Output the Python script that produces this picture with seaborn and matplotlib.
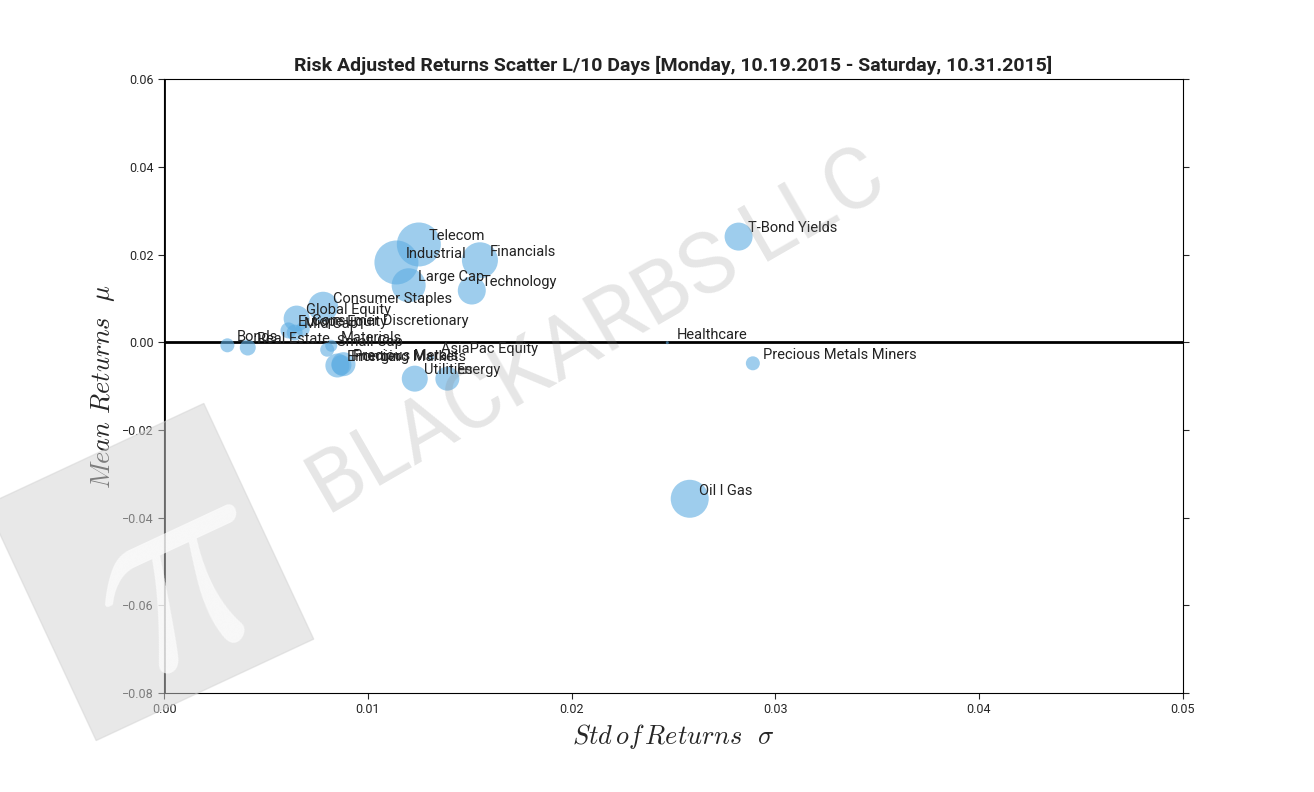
import numpy as np
import pandas as pd
import matplotlib.pyplot as plt
import seaborn as sns
from matplotlib.patches import Rectangle
import matplotlib.transforms as mtransforms

# dados
labels = ['Bonds', 'Real Estate', 'Europe Equity', 'Mid Cap', 'Consumer Discretionary',
          'Global Equity', 'Consumer Staples', 'Materials', 'Small Cap', 'Emerging Markets',
          'Precious Metals', 'Frontier', 'AsiaPac Equity', 'Utilities', 'Energy',
          'Healthcare', 'Precious Metals Miners', 'Oil l Gas', 'T-Bond Yields', 'Telecom',
          'Industrial', 'Financials', 'Large Cap', 'Technology']
std_ret = [0.0031, 0.0041, 0.0061, 0.0064, 0.0068, 0.0065, 0.0078, 0.0082, 0.0080, 0.0085,
           0.0088, 0.0087, 0.0131, 0.0123, 0.0139, 0.0247, 0.0289, 0.0258, 0.0282, 0.0125,
           0.0114, 0.0155, 0.0120, 0.0151]
mean_ret = [-0.0007, -0.0012, 0.0027, 0.0022, 0.0030, 0.0054, 0.0081, -0.0008, -0.0017, -0.0053,
            -0.0050, -0.0052, -0.0035, -0.0083, -0.0083, -0.0001, -0.0048, -0.0357, 0.0241, 0.0223,
            0.0182, 0.0187, 0.0130, 0.0118]
bubble = [7, 8, 8, 8, 7, 13, 15, 6, 7, 12, 12, 10, 3, 13, 12, 1.5, 7, 19, 14, 22,
          22, 18, 17, 14]

df = pd.DataFrame({'label': labels, 'std': std_ret, 'mean': mean_ret, 'r': bubble})
df['s'] = (df['r'] * 2 * 0.72) ** 2

sns.set_style('white')
plt.rcParams['font.family'] = ['Roboto', 'DejaVu Sans']
plt.rcParams['mathtext.fontset'] = 'cm'

fig, ax = plt.subplots(figsize=(13.14, 7.92), dpi=100)
fig.subplots_adjust(left=0.125, right=0.9, top=0.9, bottom=0.125)

# marca d'agua
fig.text(0.455, 0.58, 'BLACKARBS LLC', fontsize=62, color='gray', alpha=0.2,
         rotation=30, ha='center', va='center', zorder=0)
rect = Rectangle((30, 90), 240, 260, color='lightgray', alpha=0.5, zorder=0,
                 transform=mtransforms.Affine2D().rotate_deg_around(150, 220, 25))
fig.patches.append(rect)
fig.text(0.135, 0.27, r'$\pi$', fontsize=210, color='white', alpha=0.7, rotation=25,
         ha='center', va='center', zorder=1)

ax.set_facecolor('none')
sns.scatterplot(data=df, x='std', y='mean', s=df['s'], color='#5DADE2', alpha=0.6,
                edgecolor='none', legend=False, ax=ax, zorder=3)
for _, row in df.iterrows():
    ax.annotate(row['label'], (row['std'], row['mean']), xytext=(7, 3),
                textcoords='offset points', fontsize=10.5, color='#222222', zorder=4)

ax.axhline(0, color='black', lw=2, zorder=2)
ax.axvline(0, color='black', lw=2, zorder=2)
ax.set_xlim(0, 0.05)
ax.set_ylim(-0.08, 0.06)
ax.set_xticks(np.arange(0, 0.051, 0.01))
ax.set_yticks(np.arange(-0.08, 0.061, 0.02))
ax.tick_params(labelsize=9, direction='out', length=4, right=True, top=False, left=True, bottom=True)
ax.set_xticklabels(['0.00', '0.01', '0.02', '0.03', '0.04', '0.05'])
ax.set_yticklabels(['\u22120.08', '\u22120.06', '\u22120.04', '\u22120.02', '0.00', '0.02', '0.04', '0.06'])
for sp in ax.spines.values():
    sp.set_color('black')
    sp.set_linewidth(0.8)
ax.set_title('Risk Adjusted Returns Scatter L/10 Days [Monday, 10.19.2015 - Saturday, 10.31.2015]',
             fontsize=14, fontweight='bold', color='#222222')
ax.set_xlabel(r'$Std\,of\,Returns\ \ \sigma$', fontsize=19)
ax.set_ylabel(r'$Mean\ Returns\ \ \mu$', fontsize=19)

plt.savefig('out.png', dpi=100)
